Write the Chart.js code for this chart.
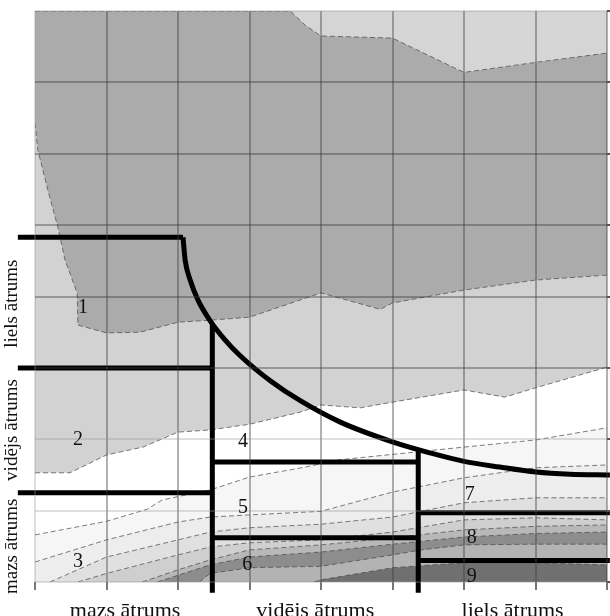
<!DOCTYPE html>
<html>
<head>
<meta charset="utf-8">
<script src="https://cdn.jsdelivr.net/npm/chart.js@4.4.1/dist/chart.umd.min.js"></script>
<style>
  html, body { margin: 0; padding: 0; background: #fff; }
</style>
</head>
<body>
<canvas id="chart" width="610" height="616"></canvas>
<script>
// contour boundaries, [x, y] in grid cells (0..8 both ways)
const topEdge = [[0, 8], [8, 8]];
const darkTop = [[0, 8], [3.57, 8], [3.78, 7.8], [4, 7.65], [5, 7.62], [6, 7.14], [7, 7.28], [8, 7.41]];
const darkBottom = [[0, 6.43], [0.04, 6.05], [0.18, 5.49], [0.32, 4.97], [0.42, 4.51], [0.59, 4.05], [0.6, 3.6],
  [1, 3.49], [1.47, 3.5], [2, 3.64], [2.48, 3.67], [3, 3.71], [4, 4.05], [4.83, 3.82], [5, 3.91], [6, 4.09], [7, 4.23], [8, 4.3]];
const whiteTop = [[0, 1.53], [0.49, 1.53], [1, 1.78], [1.51, 1.89], [2, 2.1], [2.45, 2.13], [3, 2.21], [3.71, 2.38],
  [4, 2.48], [4.55, 2.44], [5, 2.52], [6, 2.69], [6.57, 2.59], [7, 2.72], [8, 3.01]];
const lineA = [[0, 0.66], [1, 0.85], [1.57, 1.02], [1.78, 1.15], [2.45, 1.29], [3, 1.47], [3.78, 1.61], [4.24, 1.71],
  [5.31, 1.82], [6, 1.89], [7, 1.99], [8, 2.16]];
const lineB = [[0, 0.28], [1, 0.59], [2, 0.84], [2.45, 0.91], [3, 0.94], [4, 0.99], [5, 1.26], [6, 1.46], [7, 1.6], [8, 1.64]];
const lineC = [[0.21, 0], [1, 0.35], [2, 0.59], [2.45, 0.7], [3, 0.76], [4, 0.81], [5, 0.91], [6, 1.11], [7, 1.18], [8, 1.18]];
const lineD = [[0.6, 0], [1, 0.12], [2, 0.38], [2.45, 0.49], [3, 0.55], [4, 0.59], [5, 0.7], [6, 0.87], [7, 0.9], [8, 0.87]];
const lineE = [[1.5, 0], [2, 0.17], [2.45, 0.31], [3, 0.45], [4, 0.52], [5, 0.62], [6, 0.73], [7, 0.78], [8, 0.8]];
const lineF = [[1.71, 0], [2.45, 0.24], [3, 0.35], [4, 0.42], [5, 0.53], [6, 0.63], [7, 0.68], [8, 0.7]];
const lineG = [[2.3, 0], [2.45, 0.12], [3, 0.2], [4, 0.22], [5, 0.38], [5.4, 0.45], [6, 0.52], [7, 0.53], [8, 0.53]];
const lineH = [[3.9, 0], [4, 0.03], [5, 0.2], [6, 0.27], [7, 0.27], [8, 0.24]];

// thick black zone borders
const speedTop = [[-0.24, 4.83], [2.07, 4.83]];
const speedCurve = [[2.07, 4.83], [2.1, 4.51], [2.17, 4.23], [2.28, 3.95], [2.45, 3.66], [2.66, 3.39], [2.87, 3.17],
  [3.29, 2.82], [3.71, 2.54], [4.27, 2.24], [5.01, 1.96], [5.52, 1.81], [6, 1.69], [6.5, 1.61], [7.01, 1.54],
  [7.48, 1.51], [8.04, 1.5]];
const zoneLines = [
  speedTop,
  [[2.48, 3.6], [2.48, -0.15]],
  [[-0.24, 3.0], [2.48, 3.0]],
  [[-0.24, 1.25], [2.48, 1.25]],
  [[2.48, 1.68], [5.36, 1.68]],
  [[2.48, 0.62], [5.36, 0.62]],
  [[5.36, 1.87], [5.36, -0.15]],
  [[5.36, 0.97], [8.04, 0.97]],
  [[5.36, 0.3], [8.04, 0.3]]
];

// text
const xZoneLabels = ['mazs ātrums', 'vidējs ātrums', 'liels ātrums'];
const xZoneCenters = [1.26, 3.92, 6.68];
const yZoneLabels = ['mazs ātrums', 'vidējs ātrums', 'liels ātrums'];
const yZoneCenters = [0.5, 2.13, 3.9];
const zoneNumbers = ['1', '2', '3', '4', '5', '6', '7', '8', '9'];
const zoneNumberX = [0.67, 0.6, 0.6, 2.91, 2.91, 2.97, 6.08, 6.11, 6.11];
const zoneNumberY = [3.84, 1.99, 0.28, 1.96, 1.04, 0.24, 1.22, 0.62, 0.07];

// bands painted top to bottom, each fills down to the axis
const bands = [topEdge, darkTop, darkBottom, whiteTop, lineA, lineB, lineC, lineD, lineE, lineF, lineG, lineH];
const bandColors = ['#d5d5d5', '#ababab', '#d2d2d2', '#ffffff', '#f6f6f6', '#ededed', '#e0e0e0',
  '#cfcfcf', '#b8b8b8', '#8d8d8d', '#b3b3b3', '#707070'];

const toPts = arr => arr.map(p => ({ x: p[0], y: p[1] }));
const serif = '"Liberation Serif", "DejaVu Serif", serif';

const datasets = [];
// black lines first so they end up on top
datasets.push({
    data: toPts(speedCurve), borderColor: '#000', borderWidth: 5, pointRadius: 0,
    fill: false, clip: false, cubicInterpolationMode: 'monotone'
});
zoneLines.forEach(seg => {
    datasets.push({
        data: toPts(seg), borderColor: '#000', borderWidth: 5, pointRadius: 0,
        fill: false, clip: false, borderCapStyle: 'butt'
    });
});
// bands, bottom one first (drawn last)
for (let i = bands.length - 1; i >= 0; i--) {
    datasets.push({
        data: toPts(bands[i]),
        backgroundColor: bandColors[i],
        borderColor: i === 0 ? 'rgba(0,0,0,0)' : 'rgba(70,70,70,0.7)',
        borderWidth: 1,
        borderDash: [5, 3],
        pointRadius: 0,
        fill: 'start',
        tension: 0
    });
}

const gridDark = 'rgba(60,60,60,0.4)';
const gridLight = 'rgba(150,150,150,0.3)';

const zoneText = {
    id: 'zoneText',
    afterDraw(chart) {
        const { ctx, scales: { x, y } } = chart;
        ctx.save();
        ctx.fillStyle = '#111';
        ctx.textAlign = 'center';
        ctx.textBaseline = 'middle';
        ctx.font = '20px ' + serif;
        zoneNumbers.forEach((t, i) => {
            ctx.fillText(t, x.getPixelForValue(zoneNumberX[i]), y.getPixelForValue(zoneNumberY[i]));
        });
        ctx.font = '19px ' + serif;
        yZoneLabels.forEach((t, i) => {
            ctx.save();
            ctx.translate(12, y.getPixelForValue(yZoneCenters[i]));
            ctx.rotate(-Math.PI / 2);
            ctx.fillText(t, 0, 0);
            ctx.restore();
        });
        ctx.restore();
    }
};

new Chart(document.getElementById('chart'), {
    type: 'line',
    data: { datasets },
    options: {
        responsive: false,
        animation: false,
        events: [],
        layout: { padding: { left: 35, top: 11, right: 0, bottom: 0 } },
        plugins: { legend: { display: false }, tooltip: { enabled: false } },
        scales: {
            x: {
                type: 'linear', min: 0, max: 8, position: 'bottom', weight: 0,
                ticks: { display: false, stepSize: 1 },
                grid: {
                    z: 1,
                    color: c => c.tick && c.tick.value === 0 ? gridLight : gridDark,
                    tickColor: '#777', tickLength: 8, lineWidth: 2
                },
                border: { display: false },
                afterFit: s => { s.height = 8; }
            },
            xLab: {
                type: 'linear', min: 0, max: 8, position: 'bottom', weight: 1,
                afterBuildTicks: s => { s.ticks = xZoneCenters.map(v => ({ value: v })); },
                ticks: {
                    autoSkip: false, maxRotation: 0, padding: 0, color: '#111',
                    font: { family: serif, size: 22 },
                    callback: (v, i) => xZoneLabels[i]
                },
                grid: { display: false },
                border: { display: false },
                afterFit: s => { s.height = 26; }
            },
            y: {
                type: 'linear', min: 0, max: 8, position: 'right',
                ticks: { display: false, stepSize: 1 },
                grid: {
                    z: 1,
                    color: c => {
                        const v = c.tick ? c.tick.value : -1;
                        return (v === 1 || v === 2 || v === 8 || v === 0) ? gridLight : gridDark;
                    },
                    tickColor: '#555', tickLength: 4, lineWidth: 2
                },
                border: { display: false },
                afterFit: s => { s.width = 3; }
            }
        }
    },
    plugins: [zoneText]
});
</script>
</body>
</html>
